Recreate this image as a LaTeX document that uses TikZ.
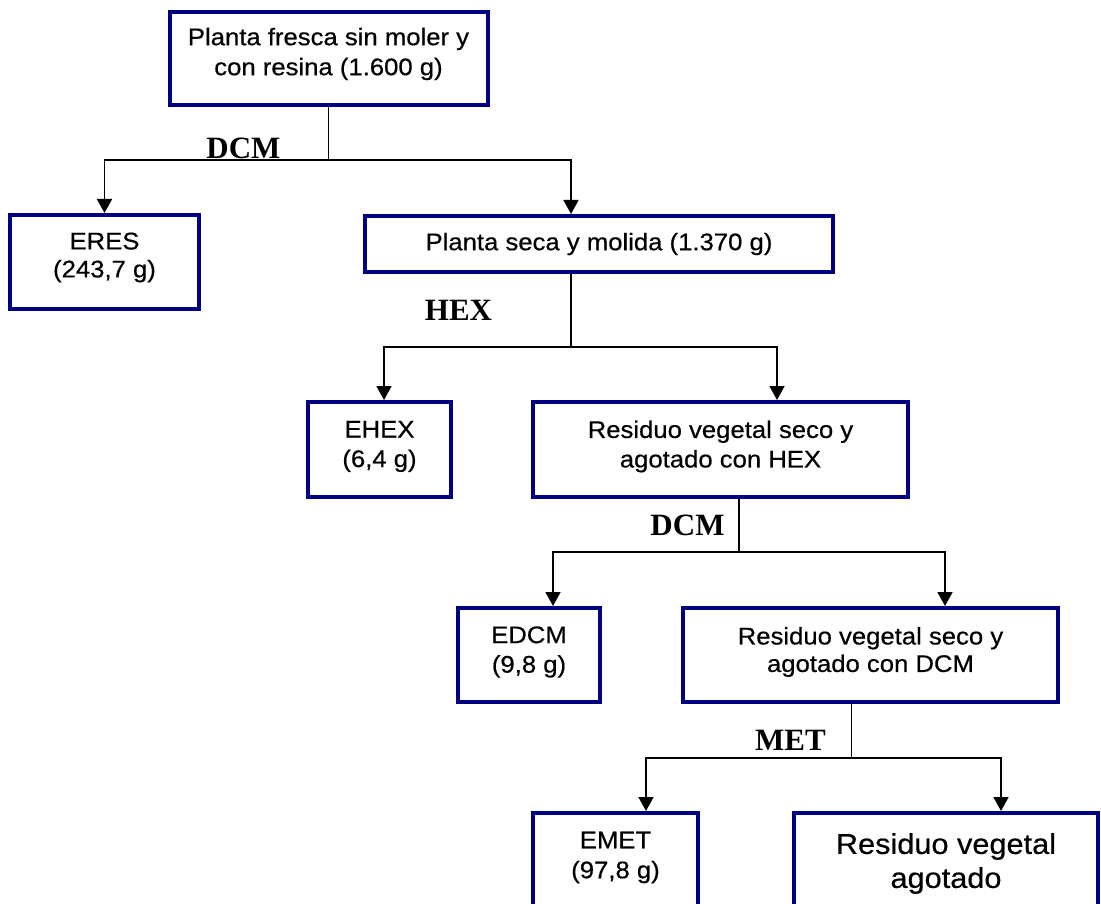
\documentclass[tikz,border=0pt]{standalone}
\usepackage{fontspec}
\setmainfont{Liberation Sans}[FakeStretch=1.07,FakeBold=0.5]
\newfontfamily\lblfont{Liberation Serif}
\usetikzlibrary{arrows.meta}
\definecolor{navy}{RGB}{0,0,128}
\tikzset{
  box/.style={draw=navy, line width=4pt, fill=white, align=center, inner sep=0pt,
    text=black, font=\fontsize{24}{29.5}\selectfont},
  twobox/.style={box, text depth=11pt},
  bigbox/.style={box, font=\fontsize{28.7}{34}\selectfont, text depth=0pt},
  conn/.style={draw=black, line width=1.8pt},
  arr/.style={conn, -{Triangle[length=14pt,width=15pt]}},
  lbl/.style={font=\lblfont\bfseries\fontsize{31}{31}\selectfont, inner sep=0pt, anchor=base}
}
\begin{document}
\begin{tikzpicture}[x=1pt,y=-1pt]
\useasboundingbox (0,0) rectangle (1101,904);
\clip (0,0) rectangle (1101,904);
\fill[white] (0,0) rectangle (1101,904);

\node[twobox, text depth=14pt, font=\fontsize{24}{30}\selectfont, minimum width=318pt, minimum height=93pt] (top) at (328.5,58.5) {Planta fresca sin moler y\\con resina (1.600 g)};
\node[twobox, text depth=14pt, font=\fontsize{24}{28}\selectfont, minimum width=189pt, minimum height=94pt] (eres) at (104.5,262) {ERES\\(243,7 g)};
\node[box, minimum width=468pt, minimum height=56pt] (seca) at (599,244) {Planta seca y molida (1.370 g)};
\node[twobox, minimum width=143pt, minimum height=95pt] (ehex) at (379.5,449.5) {EHEX\\(6,4 g)};
\node[twobox, minimum width=375pt, minimum height=95pt] (rhex) at (720.5,449.5) {Residuo vegetal seco y\\agotado con HEX};
\node[twobox, minimum width=142pt, minimum height=94pt] (edcm) at (529,655) {EDCM\\(9,8 g)};
\node[twobox, font=\fontsize{24}{27.5}\selectfont, minimum width=375pt, minimum height=94pt] (rdcm) at (870.5,655) {Residuo vegetal seco y\\agotado con DCM};
\node[twobox, font=\fontsize{24}{30}\selectfont, minimum width=165pt, minimum height=95pt] (emet) at (615.5,860.5) {EMET\\(97,8 g)};
\node[bigbox, minimum width=304pt, minimum height=95pt] (last) at (946,860.5) {Residuo vegetal\\agotado};

\coordinate (j1) at (328.5,160);
\draw[conn] (top.south) -- (j1);
\draw[arr] (j1) -| (eres.north);
\draw[arr] (j1) -| ([xshift=-28pt]seca.north);

\coordinate (j2) at (571,347);
\draw[conn] ([xshift=-28pt]seca.south) -- (j2);
\draw[arr] (j2) -| ([xshift=4.5pt]ehex.north);
\draw[arr] (j2) -| ([xshift=56.5pt]rhex.north);

\coordinate (j3) at (739,552);
\draw[conn] ([xshift=18.5pt]rhex.south) -- (j3);
\draw[arr] (j3) -| ([xshift=24pt]edcm.north);
\draw[arr] (j3) -| ([xshift=74.5pt]rdcm.north);

\coordinate (j4) at (851.5,758);
\draw[conn] ([xshift=-19pt]rdcm.south) -- (j4);
\draw[arr] (j4) -| ([xshift=30.5pt]emet.north);
\draw[arr] (j4) -| ([xshift=55pt]last.north);

\node[lbl] (l1) at (243.5,159) {DCM};
\node[lbl] (l2) at (458.5,320) {HEX};
\node[lbl] (l3) at (687.5,535) {DCM};
\node[lbl] (l4) at (790.5,750) {MET};
\end{tikzpicture}
\end{document}
